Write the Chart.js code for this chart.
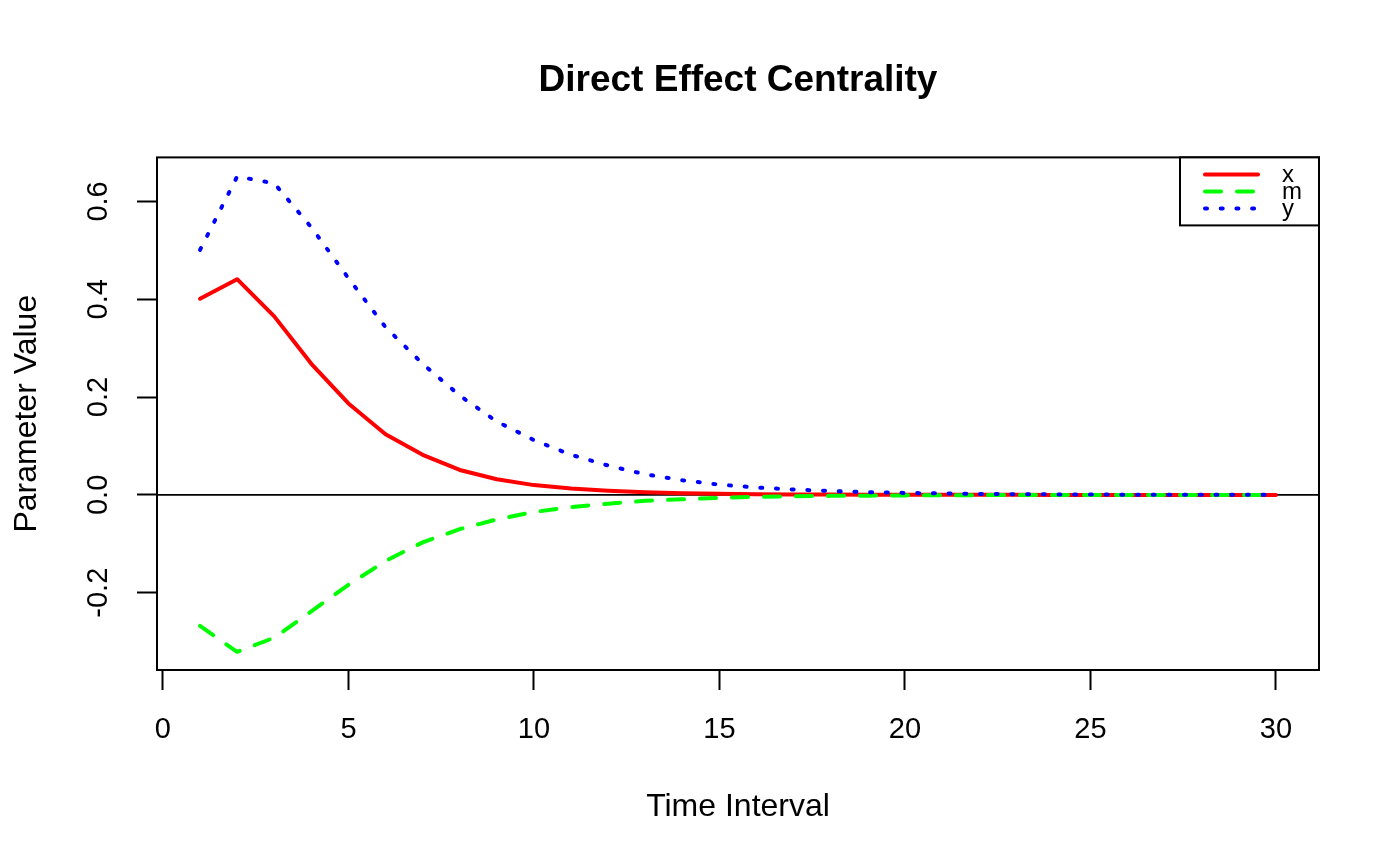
<!DOCTYPE html>
<html>
<head>
<meta charset="utf-8">
<title>Direct Effect Centrality</title>
<script src="https://cdn.jsdelivr.net/npm/chart.js@4/dist/chart.umd.min.js"></script>
<style>
    html, body { margin: 0; padding: 0; background: #fff; }
    #wrap { width: 1400px; height: 866px; }
</style>
</head>
<body>
<div id="wrap"><canvas id="centralityChart" width="1400" height="866"></canvas></div>
<script>
// values, one per time interval
const timeIntervals = [1, 2, 3, 4, 5, 6, 7, 8, 9, 10, 11, 12, 13, 14, 15,
                       16, 17, 18, 19, 20, 21, 22, 23, 24, 25, 26, 27, 28, 29, 30];

const xValues = [0.401, 0.441, 0.365, 0.268, 0.187, 0.124, 0.082, 0.051, 0.032, 0.020,
                 0.013, 0.0085, 0.0055, 0.0035, 0.0022, 0.0014, 0.0009, 0.0006, 0.0004, 0.0003,
                 0.0002, 0.0001, 0.0001, 0, 0, 0, 0, 0, 0, 0];

const mValues = [-0.268, -0.321, -0.292, -0.238, -0.184, -0.135, -0.097, -0.070, -0.050, -0.035,
                 -0.025, -0.018, -0.012, -0.009, -0.006, -0.004, -0.003, -0.002, -0.0015, -0.001,
                 -0.0007, -0.0005, -0.0003, -0.0002, -0.0002, -0.0001, -0.0001, -0.0001, 0, 0];

const yValues = [0.501, 0.651, 0.637, 0.547, 0.443, 0.343, 0.268, 0.203, 0.150, 0.112,
                 0.082, 0.060, 0.042, 0.030, 0.021, 0.015, 0.011, 0.008, 0.0055, 0.004,
                 0.003, 0.002, 0.0015, 0.001, 0.0007, 0.0005, 0.0004, 0.0003, 0.0002, 0.0001];

const seriesNames = ['x', 'm', 'y'];

Chart.defaults.font.family = "'Liberation Sans', Arial, Helvetica, sans-serif";
Chart.defaults.color = '#000';

const SERIES = [
    { label: seriesNames[0], values: xValues, color: '#ff0000', dash: [],        order: 3 },
    { label: seriesNames[1], values: mValues, color: '#00ff00', dash: [16, 16],  order: 2 },
    { label: seriesNames[2], values: yValues, color: '#0000ff', dash: [2, 13.7], order: 1 },
];

function toPoints(values) {
    return values.map((v, i) => ({ x: timeIntervals[i], y: v }));
}

const datasets = SERIES.map(s => ({
    label: s.label,
    data: toPoints(s.values),
    borderColor: s.color,
    backgroundColor: s.color,
    borderWidth: 4,
    borderDash: s.dash,
    borderCapStyle: 'round',
    borderJoinStyle: 'round',
    pointRadius: 0,
    tension: 0,
    fill: false,
    order: s.order,
}));

// zero reference line + plot frame + R-style legend
const framePlugin = {
    id: 'frame',
    beforeDatasetsDraw(chart) {
        const { ctx, chartArea } = chart;
        const y0 = chart.scales.y.getPixelForValue(0);
        ctx.save();
        ctx.strokeStyle = '#000';
        ctx.lineWidth = 1.8;
        ctx.beginPath();
        ctx.moveTo(chartArea.left, y0);
        ctx.lineTo(chartArea.right, y0);
        ctx.stroke();
        ctx.restore();
    },
    afterDraw(chart) {
        const { ctx, chartArea } = chart;
        ctx.save();
        ctx.strokeStyle = '#000';
        ctx.lineWidth = 2;
        ctx.strokeRect(chartArea.left, chartArea.top,
                       chartArea.right - chartArea.left, chartArea.bottom - chartArea.top);

        // legend box in the top right corner
        const boxW = 139, boxH = 68;
        const bx = chartArea.right - boxW, by = chartArea.top;
        ctx.fillStyle = '#fff';
        ctx.fillRect(bx, by, boxW, boxH);
        ctx.strokeRect(bx, by, boxW, boxH);

        ctx.font = "24px 'Liberation Sans', Arial, sans-serif";
        ctx.textAlign = 'left';
        ctx.textBaseline = 'middle';
        chart.data.datasets.forEach((ds, i) => {
            const ly = by + 17 + i * 17;
            ctx.strokeStyle = ds.borderColor;
            ctx.lineWidth = 4;
            ctx.lineCap = 'round';
            ctx.setLineDash(ds.borderDash);
            ctx.beginPath();
            ctx.moveTo(bx + 25, ly);
            ctx.lineTo(bx + 78, ly);
            ctx.stroke();
            ctx.setLineDash([]);
            ctx.fillStyle = '#000';
            ctx.fillText(ds.label, bx + 102, ly + 1);
        });
        ctx.restore();
    }
};

new Chart(document.getElementById('centralityChart'), {
    type: 'line',
    data: { datasets },
    plugins: [framePlugin],
    options: {
        responsive: false,
        animation: false,
        layout: { padding: { left: 0, right: 81, top: 0, bottom: 0 } },
        plugins: {
            legend: { display: false },
            tooltip: { enabled: false },
            title: {
                display: true,
                fullSize: false,
                text: 'Direct Effect Centrality',
                font: { size: 37, weight: 'bold' },
                padding: { top: 59, bottom: 54 },
            },
        },
        scales: {
            x: {
                type: 'linear',
                min: -0.16,
                max: 31.16,
                afterFit: s => { s.height = 196; },
                border: { display: false },
                grid: { drawOnChartArea: false, drawTicks: true, tickLength: 20, tickWidth: 2, tickColor: '#000' },
                ticks: { stepSize: 5, includeBounds: false, font: { size: 29 }, padding: 23, maxRotation: 0 },
                title: { display: true, text: 'Time Interval', font: { size: 32 }, padding: { top: 0, bottom: 40 } },
            },
            y: {
                type: 'linear',
                min: -0.358,
                max: 0.690,
                afterFit: s => { s.width = 157; },
                border: { display: false },
                grid: { drawOnChartArea: false, drawTicks: true, tickLength: 20, tickWidth: 2, tickColor: '#000' },
                ticks: {
                    stepSize: 0.2,
                    includeBounds: false,
                    font: { size: 29 },
                    padding: 13,
                    minRotation: 90,
                    maxRotation: 90,
                    crossAlign: 'center',
                    callback: v => v.toFixed(1),
                },
                title: { display: true, text: 'Parameter Value', font: { size: 32 }, padding: { top: 8, bottom: 0 } },
            },
        },
    },
});
</script>
</body>
</html>
